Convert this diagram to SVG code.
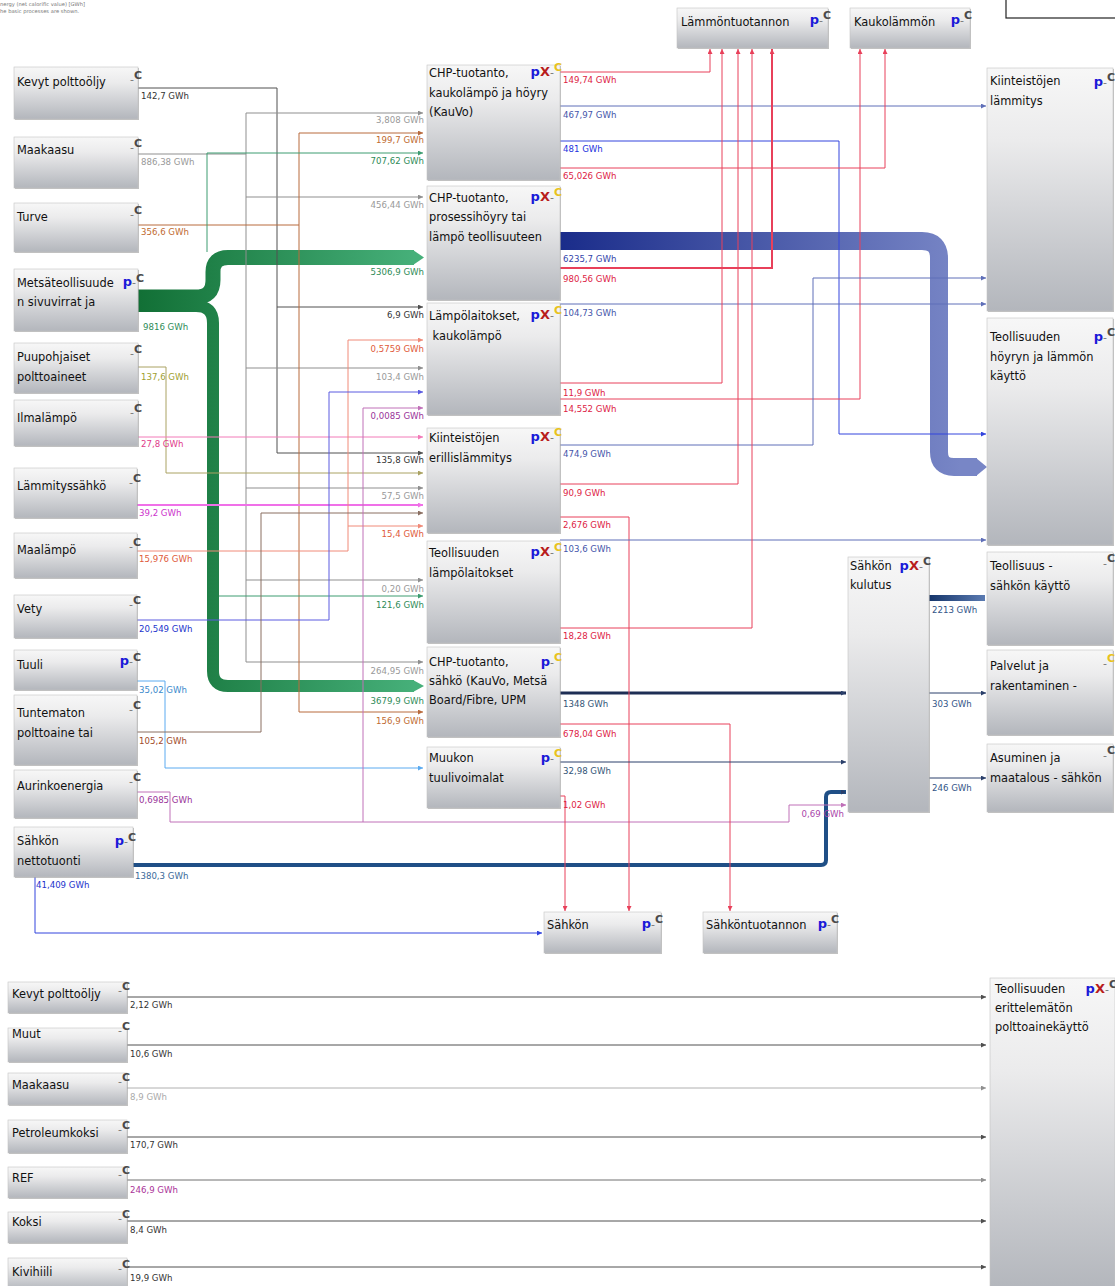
<svg xmlns="http://www.w3.org/2000/svg" width="1115" height="1286" viewBox="0 0 1115 1286">
<defs>
<style>
.b{fill:url(#ng);stroke:#c4c4c4;stroke-width:0.6}
.s{fill:#8e8e8e;opacity:0.55}
.t{font-family:"DejaVu Sans",Verdana,sans-serif;font-size:11.4px;fill:#111}
.l{font-family:"DejaVu Sans",Verdana,sans-serif;font-size:8.6px}
.ico{font-family:"DejaVu Sans",Verdana,sans-serif;font-weight:bold}
.p{fill:#1a1ad8;font-size:13px}
.x{fill:#b81c1c;font-size:13px}
.d{fill:#777;font-size:11px;font-weight:normal}
.c{fill:#4a4a4a;font-size:11px}
.cy{fill:#e8c21c;font-size:11px}
.f{fill:none;stroke-width:1}
.dk{stroke:#505050;marker-end:url(#m-dk)}
.gy{stroke:#8f8f8f;marker-end:url(#m-gy)}
.br{stroke:#b86a3c;marker-end:url(#m-br)}
.ol{stroke:#aaa262;marker-end:url(#m-ol)}
.pk{stroke:#f27ab8;marker-end:url(#m-pk)}
.mg{stroke:#f070e8;marker-end:url(#m-mg);stroke-width:2}
.sa{stroke:#f08a78;marker-end:url(#m-sa)}
.vb{stroke:#5a5ae0;marker-end:url(#m-vb)}
.lb{stroke:#5aaaf0;marker-end:url(#m-lb)}
.tn{stroke:#8a6e60;marker-end:url(#m-tn)}
.pu{stroke:#c070b8;marker-end:url(#m-pu)}
.gn{stroke:#3c9c70;marker-end:url(#m-gn)}
.rd{stroke:#e8405a;marker-end:url(#m-rd)}
.bl{stroke:#5f6fb8;marker-end:url(#m-bl)}
.b2{stroke:#3344dd;marker-end:url(#m-b2)}
.nv{stroke:#2a3f6a;marker-end:url(#m-nv)}
.nm{marker-end:none}
</style>
<linearGradient id="ng" x1="0" y1="0" x2="0" y2="1">
<stop offset="0" stop-color="#f7f7f7"/><stop offset="0.3" stop-color="#ebebec"/><stop offset="1" stop-color="#b3b6bc"/>
</linearGradient>
<linearGradient id="gg" gradientUnits="userSpaceOnUse" x1="140" y1="0" x2="424" y2="0">
<stop offset="0" stop-color="#127036"/><stop offset="1" stop-color="#48b27c"/>
</linearGradient>
<linearGradient id="bg" gradientUnits="userSpaceOnUse" x1="560" y1="0" x2="960" y2="0">
<stop offset="0" stop-color="#1a2c8a"/><stop offset="1" stop-color="#7886c6"/>
</linearGradient>
<linearGradient id="eg" gradientUnits="userSpaceOnUse" x1="929" y1="0" x2="987" y2="0">
<stop offset="0" stop-color="#15356a"/><stop offset="1" stop-color="#5d7db4"/>
</linearGradient>
<marker id="m-dk" viewBox="0 0 6 6" refX="6" refY="3" markerWidth="5" markerHeight="5" markerUnits="userSpaceOnUse" orient="auto"><path d="M0 0L6 3L0 6z" fill="#505050"/></marker>
<marker id="m-gy" viewBox="0 0 6 6" refX="6" refY="3" markerWidth="5" markerHeight="5" markerUnits="userSpaceOnUse" orient="auto"><path d="M0 0L6 3L0 6z" fill="#8f8f8f"/></marker>
<marker id="m-br" viewBox="0 0 6 6" refX="6" refY="3" markerWidth="5" markerHeight="5" markerUnits="userSpaceOnUse" orient="auto"><path d="M0 0L6 3L0 6z" fill="#b86a3c"/></marker>
<marker id="m-ol" viewBox="0 0 6 6" refX="6" refY="3" markerWidth="5" markerHeight="5" markerUnits="userSpaceOnUse" orient="auto"><path d="M0 0L6 3L0 6z" fill="#aaa262"/></marker>
<marker id="m-pk" viewBox="0 0 6 6" refX="6" refY="3" markerWidth="5" markerHeight="5" markerUnits="userSpaceOnUse" orient="auto"><path d="M0 0L6 3L0 6z" fill="#f27ab8"/></marker>
<marker id="m-mg" viewBox="0 0 6 6" refX="6" refY="3" markerWidth="5" markerHeight="5" markerUnits="userSpaceOnUse" orient="auto"><path d="M0 0L6 3L0 6z" fill="#f070e8"/></marker>
<marker id="m-sa" viewBox="0 0 6 6" refX="6" refY="3" markerWidth="5" markerHeight="5" markerUnits="userSpaceOnUse" orient="auto"><path d="M0 0L6 3L0 6z" fill="#f08a78"/></marker>
<marker id="m-vb" viewBox="0 0 6 6" refX="6" refY="3" markerWidth="5" markerHeight="5" markerUnits="userSpaceOnUse" orient="auto"><path d="M0 0L6 3L0 6z" fill="#5a5ae0"/></marker>
<marker id="m-lb" viewBox="0 0 6 6" refX="6" refY="3" markerWidth="5" markerHeight="5" markerUnits="userSpaceOnUse" orient="auto"><path d="M0 0L6 3L0 6z" fill="#5aaaf0"/></marker>
<marker id="m-tn" viewBox="0 0 6 6" refX="6" refY="3" markerWidth="5" markerHeight="5" markerUnits="userSpaceOnUse" orient="auto"><path d="M0 0L6 3L0 6z" fill="#8a6e60"/></marker>
<marker id="m-pu" viewBox="0 0 6 6" refX="6" refY="3" markerWidth="5" markerHeight="5" markerUnits="userSpaceOnUse" orient="auto"><path d="M0 0L6 3L0 6z" fill="#c070b8"/></marker>
<marker id="m-gn" viewBox="0 0 6 6" refX="6" refY="3" markerWidth="5" markerHeight="5" markerUnits="userSpaceOnUse" orient="auto"><path d="M0 0L6 3L0 6z" fill="#3c9c70"/></marker>
<marker id="m-rd" viewBox="0 0 6 6" refX="6" refY="3" markerWidth="5" markerHeight="5" markerUnits="userSpaceOnUse" orient="auto"><path d="M0 0L6 3L0 6z" fill="#e8405a"/></marker>
<marker id="m-bl" viewBox="0 0 6 6" refX="6" refY="3" markerWidth="5" markerHeight="5" markerUnits="userSpaceOnUse" orient="auto"><path d="M0 0L6 3L0 6z" fill="#5f6fb8"/></marker>
<marker id="m-b2" viewBox="0 0 6 6" refX="6" refY="3" markerWidth="5" markerHeight="5" markerUnits="userSpaceOnUse" orient="auto"><path d="M0 0L6 3L0 6z" fill="#3344dd"/></marker>
<marker id="m-nv" viewBox="0 0 6 6" refX="6" refY="3" markerWidth="5" markerHeight="5" markerUnits="userSpaceOnUse" orient="auto"><path d="M0 0L6 3L0 6z" fill="#2a3f6a"/></marker>
</defs>
<rect width="1115" height="1286" fill="#ffffff"/>

<g id="header">
<text x="0" y="6" font-family="DejaVu Sans,sans-serif" font-size="5.2" fill="#777">nergy (net calorific value) [GWh]</text>
<text x="0" y="13" font-family="DejaVu Sans,sans-serif" font-size="5.2" fill="#777">he basic processes are shown.</text>
<rect x="1006" y="-2" width="111" height="20" fill="#fff" stroke="#222" stroke-width="1.2"/>
</g>

<g id="connectors">
<!-- big bands -->
<path class="f" d="M138 297 H196 Q213 297 213 280 V272 Q213 257.5 228 257.5 H414" style="stroke:url(#gg);stroke-width:15"/>
<polygon points="413,250 424,257.5 413,265" fill="#46b07a"/>
<path class="f" d="M138 306 H196 Q213 306 213 323 V671 Q213 686 228 686 H414" style="stroke:url(#gg);stroke-width:12"/>
<polygon points="413,680 424,686 413,692" fill="#46b07a"/>
<path class="f" d="M560 241 H922 Q939 241 939 258 V452 Q939 467 954 467 H977" style="stroke:url(#bg);stroke-width:18"/>
<polygon points="976,458 987,467 976,476" fill="#7886c6"/>
<path class="f" d="M929 598 H985" style="stroke:url(#eg);stroke-width:6"/>
<path class="f nv" d="M133 865 H821 Q826 865 826 860 V797 Q826 792 831 792 H846" style="stroke:#1f4f86;stroke-width:4"/>
<path class="f nv" d="M560 693 H846" style="stroke:#1e2e55;stroke-width:3"/>

<!-- inputs -->
<path class="f dk" d="M138 88 H277 V453 H423"/>
<path class="f dk" d="M277 307 H423"/>
<path class="f gy nm" d="M138 154 H246 M246 113 V662"/>
<path class="f gy" d="M246 113 H423"/>
<path class="f gy" d="M246 197 H423"/>
<path class="f gy" d="M246 368 H423"/>
<path class="f gy" d="M246 488 H423"/>
<path class="f gy" d="M246 580 H423"/>
<path class="f gy" d="M246 662 H423"/>
<path class="f br nm" d="M138 225 H299 M299 133 V712"/>
<path class="f br" d="M299 133 H423"/>
<path class="f br" d="M299 712 H423"/>
<path class="f gn" d="M207 252 V153 H423"/>
<path class="f gn" d="M219 596 H423"/>
<path class="f ol" d="M138 367 H166 V473 H423"/>
<path class="f pk" d="M138 437 H423"/>
<path class="f mg" d="M137 505 H423"/>
<path class="f sa" d="M137 551 H348 V340 H423"/>
<path class="f sa" d="M348 526 H423"/>
<path class="f vb" d="M137 620 H329 V392 H423"/>
<path class="f lb" d="M137 681 H165 V768 H423"/>
<path class="f tn" d="M137 732 H261 V513 H423"/>
<path class="f pu" d="M137 792 H170 V822 H789 V805 H846"/>
<path class="f pu" d="M363 822 V408 H423"/>
<path class="f b2" d="M35 877 V933 H542"/>

<!-- outputs -->
<path class="f rd" d="M560 72 H710 V49"/>
<path class="f bl" d="M560 106 H986"/>
<path class="f b2" d="M560 141 H839 V434 H986"/>
<path class="f rd" d="M560 168 H885 V49"/>
<path class="f rd" d="M560 268 H772 V49" style="stroke-width:2"/>
<path class="f bl" d="M560 304 H986"/>
<path class="f rd" d="M560 383 H722 V49"/>
<path class="f rd" d="M560 399 H860 V49"/>
<path class="f bl" d="M560 445 H813 V278 H986"/>
<path class="f rd" d="M560 484 H738 V49"/>
<path class="f rd" d="M560 517 H629 V911"/>
<path class="f bl" d="M560 540 H986"/>
<path class="f rd" d="M560 628 H752 V49"/>
<path class="f rd" d="M560 724 H730 V911"/>
<path class="f nv" d="M560 762 H846"/>
<path class="f rd" d="M560 796 H565 V911"/>
<path class="f nv" d="M929 693 H986"/>
<path class="f nv" d="M929 778 H986"/>

<!-- bottom -->
<path class="f dk" d="M127 997 H986"/>
<path class="f dk" d="M127 1045 H986"/>
<path class="f gy" d="M127 1088 H986" style="stroke:#b0b0b0"/>
<path class="f dk" d="M127 1137 H986"/>
<path class="f gy" d="M127 1180 H986" style="stroke:#707070"/>
<path class="f dk" d="M127 1221 H986"/>
<path class="f dk" d="M127 1267 H986"/>
</g>

<g id="flow-labels" class="l">
<text x="141" y="99" fill="#333">142,7 GWh</text>
<text x="141" y="165" fill="#999">886,38 GWh</text>
<text x="141" y="235" fill="#c06a30">356,6 GWh</text>
<text x="143" y="330" fill="#2e8b57">9816 GWh</text>
<text x="141" y="380" fill="#a0a030">137,6 GWh</text>
<text x="141" y="447" fill="#e03a8a">27,8 GWh</text>
<text x="139" y="516" fill="#cc33cc">39,2 GWh</text>
<text x="139" y="562" fill="#e05a3a">15,976 GWh</text>
<text x="139" y="632" fill="#2233cc">20,549 GWh</text>
<text x="139" y="693" fill="#3a8acc">35,02 GWh</text>
<text x="139" y="744" fill="#a04a2a">105,2 GWh</text>
<text x="139" y="803" fill="#993399">0,6985 GWh</text>
<text x="135" y="879" fill="#3a6a99">1380,3 GWh</text>
<text x="36" y="888" fill="#2233cc">41,409 GWh</text>
<g text-anchor="end">
<text x="424" y="123" fill="#999">3,808 GWh</text>
<text x="424" y="143" fill="#c06a30">199,7 GWh</text>
<text x="424" y="164" fill="#2e8b57">707,62 GWh</text>
<text x="424" y="208" fill="#999">456,44 GWh</text>
<text x="424" y="275" fill="#2e8b57">5306,9 GWh</text>
<text x="424" y="318" fill="#333">6,9 GWh</text>
<text x="424" y="352" fill="#e05a3a">0,5759 GWh</text>
<text x="424" y="380" fill="#999">103,4 GWh</text>
<text x="424" y="419" fill="#993399">0,0085 GWh</text>
<text x="424" y="463" fill="#333">135,8 GWh</text>
<text x="424" y="499" fill="#999">57,5 GWh</text>
<text x="424" y="537" fill="#e05a3a">15,4 GWh</text>
<text x="424" y="592" fill="#999">0,20 GWh</text>
<text x="424" y="608" fill="#2e8b57">121,6 GWh</text>
<text x="424" y="674" fill="#999">264,95 GWh</text>
<text x="424" y="704" fill="#2e8b57">3679,9 GWh</text>
<text x="424" y="724" fill="#c06a30">156,9 GWh</text>
<text x="844" y="817" fill="#aa44aa">0,69 GWh</text>
</g>
<text x="563" y="83" fill="#dd2244">149,74 GWh</text>
<text x="563" y="118" fill="#4455aa">467,97 GWh</text>
<text x="563" y="152" fill="#2233dd">481 GWh</text>
<text x="563" y="179" fill="#dd2244">65,026 GWh</text>
<text x="563" y="262" fill="#3344aa">6235,7 GWh</text>
<text x="563" y="282" fill="#dd2244">980,56 GWh</text>
<text x="563" y="316" fill="#4455aa">104,73 GWh</text>
<text x="563" y="396" fill="#dd2244">11,9 GWh</text>
<text x="563" y="412" fill="#dd2244">14,552 GWh</text>
<text x="563" y="457" fill="#4455aa">474,9 GWh</text>
<text x="563" y="496" fill="#dd2244">90,9 GWh</text>
<text x="563" y="528" fill="#dd2244">2,676 GWh</text>
<text x="563" y="552" fill="#4455aa">103,6 GWh</text>
<text x="563" y="639" fill="#dd2244">18,28 GWh</text>
<text x="563" y="707" fill="#335577">1348 GWh</text>
<text x="563" y="737" fill="#dd2244">678,04 GWh</text>
<text x="563" y="774" fill="#335577">32,98 GWh</text>
<text x="563" y="808" fill="#dd2244">1,02 GWh</text>
<text x="932" y="613" fill="#335588">2213 GWh</text>
<text x="932" y="707" fill="#335588">303 GWh</text>
<text x="932" y="791" fill="#335588">246 GWh</text>
<text x="130" y="1008" fill="#333">2,12 GWh</text>
<text x="130" y="1057" fill="#333">10,6 GWh</text>
<text x="130" y="1100" fill="#aaa">8,9 GWh</text>
<text x="130" y="1148" fill="#333">170,7 GWh</text>
<text x="130" y="1193" fill="#aa3399">246,9 GWh</text>
<text x="130" y="1233" fill="#333">8,4 GWh</text>
<text x="130" y="1281" fill="#333">19,9 GWh</text>
</g>

<!-- left nodes -->
<g id="n-kevyt"><rect class="s" x="15" y="68" width="124" height="52"/><rect class="b" x="14" y="67" width="124" height="52"/><text class="t" x="17" y="86">Kevyt polttoöljy</text><text class="ico" x="142" y="83" text-anchor="end"><tspan class="d">-</tspan><tspan class="c" dy="-4">C</tspan></text></g>
<g id="n-maakaasu"><rect class="s" x="15" y="138" width="124" height="51"/><rect class="b" x="14" y="137" width="124" height="51"/><text class="t" x="17" y="154">Maakaasu</text><text class="ico" x="142" y="151" text-anchor="end"><tspan class="d">-</tspan><tspan class="c" dy="-4">C</tspan></text></g>
<g id="n-turve"><rect class="s" x="15" y="204" width="124" height="49"/><rect class="b" x="14" y="203" width="124" height="49"/><text class="t" x="17" y="221">Turve</text><text class="ico" x="142" y="218" text-anchor="end"><tspan class="d">-</tspan><tspan class="c" dy="-4">C</tspan></text></g>
<g id="n-metsa"><rect class="s" x="15" y="270" width="124" height="62"/><rect class="b" x="14" y="269" width="124" height="62"/><text class="t" x="17" y="287">Metsäteollisuude</text><text class="t" x="17" y="306">n sivuvirrat ja</text><text class="ico" x="144" y="286" text-anchor="end"><tspan class="p">p</tspan><tspan class="d">-</tspan><tspan class="c" dy="-4">C</tspan></text></g>
<g id="n-puupohjaiset"><rect class="s" x="15" y="344" width="124" height="50"/><rect class="b" x="14" y="343" width="124" height="50"/><text class="t" x="17" y="361">Puupohjaiset</text><text class="t" x="17" y="381">polttoaineet</text><text class="ico" x="142" y="357" text-anchor="end"><tspan class="d">-</tspan><tspan class="c" dy="-4">C</tspan></text></g>
<g id="n-ilmalampo"><rect class="s" x="15" y="401" width="124" height="46"/><rect class="b" x="14" y="400" width="124" height="46"/><text class="t" x="17" y="422">Ilmalämpö</text><text class="ico" x="142" y="416" text-anchor="end"><tspan class="d">-</tspan><tspan class="c" dy="-4">C</tspan></text></g>
<g id="n-lammityssahko"><rect class="s" x="15" y="469" width="123" height="50"/><rect class="b" x="14" y="468" width="123" height="50"/><text class="t" x="17" y="490">Lämmityssähkö</text><text class="ico" x="141" y="486" text-anchor="end"><tspan class="d">-</tspan><tspan class="c" dy="-4">C</tspan></text></g>
<g id="n-maalampo"><rect class="s" x="15" y="534" width="123" height="45"/><rect class="b" x="14" y="533" width="123" height="45"/><text class="t" x="17" y="554">Maalämpö</text><text class="ico" x="141" y="550" text-anchor="end"><tspan class="d">-</tspan><tspan class="c" dy="-4">C</tspan></text></g>
<g id="n-vety"><rect class="s" x="15" y="596" width="123" height="43"/><rect class="b" x="14" y="595" width="123" height="43"/><text class="t" x="17" y="613">Vety</text><text class="ico" x="141" y="608" text-anchor="end"><tspan class="d">-</tspan><tspan class="c" dy="-4">C</tspan></text></g>
<g id="n-tuuli"><rect class="s" x="15" y="651" width="123" height="40"/><rect class="b" x="14" y="650" width="123" height="40"/><text class="t" x="17" y="669">Tuuli</text><text class="ico" x="141" y="665" text-anchor="end"><tspan class="p">p</tspan><tspan class="d">-</tspan><tspan class="c" dy="-4">C</tspan></text></g>
<g id="n-tuntematon"><rect class="s" x="15" y="696" width="123" height="70"/><rect class="b" x="14" y="695" width="123" height="70"/><text class="t" x="17" y="717">Tuntematon</text><text class="t" x="17" y="737">polttoaine tai</text><text class="ico" x="141" y="713" text-anchor="end"><tspan class="d">-</tspan><tspan class="c" dy="-4">C</tspan></text></g>
<g id="n-aurinko"><rect class="s" x="15" y="771" width="123" height="48"/><rect class="b" x="14" y="770" width="123" height="48"/><text class="t" x="17" y="790">Aurinkoenergia</text><text class="ico" x="141" y="785" text-anchor="end"><tspan class="d">-</tspan><tspan class="c" dy="-4">C</tspan></text></g>
<g id="n-nettotuonti"><rect class="s" x="15" y="828" width="119" height="50"/><rect class="b" x="14" y="827" width="119" height="50"/><text class="t" x="17" y="845">Sähkön</text><text class="t" x="17" y="865">nettotuonti</text><text class="ico" x="136" y="845" text-anchor="end"><tspan class="p">p</tspan><tspan class="d">-</tspan><tspan class="c" dy="-4">C</tspan></text></g>

<!-- middle nodes -->
<g id="n-chp-kauvo"><rect class="s" x="428" y="66" width="133" height="115"/><rect class="b" x="427" y="65" width="133" height="115"/><text class="t" x="429" y="77">CHP-tuotanto,</text><text class="t" x="429" y="97">kaukolämpö ja höyry</text><text class="t" x="429" y="116">(KauVo)</text><text class="ico" x="562" y="76" text-anchor="end"><tspan class="p">p</tspan><tspan class="x">X</tspan><tspan class="d">-</tspan><tspan class="cy" dy="-5">C</tspan></text></g>
<g id="n-chp-prosessi"><rect class="s" x="428" y="187" width="133" height="114"/><rect class="b" x="427" y="186" width="133" height="114"/><text class="t" x="429" y="202">CHP-tuotanto,</text><text class="t" x="429" y="221">prosessihöyry tai</text><text class="t" x="429" y="241">lämpö teollisuuteen</text><text class="ico" x="562" y="201" text-anchor="end"><tspan class="p">p</tspan><tspan class="x">X</tspan><tspan class="d">-</tspan><tspan class="cy" dy="-5">C</tspan></text></g>
<g id="n-lampolaitokset"><rect class="s" x="428" y="304" width="133" height="112"/><rect class="b" x="427" y="303" width="133" height="112"/><text class="t" x="429" y="320">Lämpölaitokset,</text><text class="t" x="429" y="340" xml:space="preserve"> kaukolämpö</text><text class="ico" x="562" y="319" text-anchor="end"><tspan class="p">p</tspan><tspan class="x">X</tspan><tspan class="d">-</tspan><tspan class="cy" dy="-5">C</tspan></text></g>
<g id="n-kiint-erillis"><rect class="s" x="428" y="429" width="133" height="105"/><rect class="b" x="427" y="428" width="133" height="105"/><text class="t" x="429" y="442">Kiinteistöjen</text><text class="t" x="429" y="462">erillislämmitys</text><text class="ico" x="562" y="441" text-anchor="end"><tspan class="p">p</tspan><tspan class="x">X</tspan><tspan class="d">-</tspan><tspan class="cy" dy="-5">C</tspan></text></g>
<g id="n-teoll-lampolait"><rect class="s" x="428" y="542" width="133" height="102"/><rect class="b" x="427" y="541" width="133" height="102"/><text class="t" x="429" y="557">Teollisuuden</text><text class="t" x="429" y="577">lämpölaitokset</text><text class="ico" x="562" y="556" text-anchor="end"><tspan class="p">p</tspan><tspan class="x">X</tspan><tspan class="d">-</tspan><tspan class="cy" dy="-5">C</tspan></text></g>
<g id="n-chp-sahko"><rect class="s" x="428" y="648" width="133" height="90"/><rect class="b" x="427" y="647" width="133" height="90"/><text class="t" x="429" y="666">CHP-tuotanto,</text><text class="t" x="429" y="685">sähkö (KauVo, Metsä</text><text class="t" x="429" y="704">Board/Fibre, UPM</text><text class="ico" x="562" y="666" text-anchor="end"><tspan class="p">p</tspan><tspan class="d">-</tspan><tspan class="cy" dy="-5">C</tspan></text></g>
<g id="n-muukon"><rect class="s" x="428" y="748" width="133" height="61"/><rect class="b" x="427" y="747" width="133" height="61"/><text class="t" x="429" y="762">Muukon</text><text class="t" x="429" y="782">tuulivoimalat</text><text class="ico" x="562" y="762" text-anchor="end"><tspan class="p">p</tspan><tspan class="d">-</tspan><tspan class="cy" dy="-5">C</tspan></text></g>

<!-- top nodes -->
<g id="n-lammontuotannon"><rect class="s" x="678" y="9" width="151" height="40"/><rect class="b" x="677" y="8" width="151" height="40"/><text class="t" x="681" y="26">Lämmöntuotannon</text><text class="ico" x="831" y="24" text-anchor="end"><tspan class="p">p</tspan><tspan class="d">-</tspan><tspan class="c" dy="-5">C</tspan></text></g>
<g id="n-kaukolammon"><rect class="s" x="851" y="9" width="120" height="40"/><rect class="b" x="850" y="8" width="120" height="40"/><text class="t" x="854" y="26">Kaukolämmön</text><text class="ico" x="972" y="24" text-anchor="end"><tspan class="p">p</tspan><tspan class="d">-</tspan><tspan class="c" dy="-5">C</tspan></text></g>

<!-- right nodes -->
<g id="n-kiint-lammitys"><rect class="s" x="988" y="69" width="126" height="243"/><rect class="b" x="987" y="68" width="126" height="243"/><text class="t" x="990" y="85">Kiinteistöjen</text><text class="t" x="990" y="105">lämmitys</text><text class="ico" x="1115" y="86" text-anchor="end"><tspan class="p">p</tspan><tspan class="d">-</tspan><tspan class="c" dy="-5">C</tspan></text></g>
<g id="n-teoll-hoyry"><rect class="s" x="988" y="319" width="126" height="227"/><rect class="b" x="987" y="318" width="126" height="227"/><text class="t" x="990" y="341">Teollisuuden</text><text class="t" x="990" y="361">höyryn ja lämmön</text><text class="t" x="990" y="380">käyttö</text><text class="ico" x="1115" y="341" text-anchor="end"><tspan class="p">p</tspan><tspan class="d">-</tspan><tspan class="c" dy="-5">C</tspan></text></g>
<g id="n-teoll-sahko"><rect class="s" x="988" y="553" width="126" height="93"/><rect class="b" x="987" y="552" width="126" height="93"/><text class="t" x="990" y="570">Teollisuus -</text><text class="t" x="990" y="590">sähkön käyttö</text><text class="ico" x="1115" y="567" text-anchor="end"><tspan class="d">-</tspan><tspan class="c" dy="-5">C</tspan></text></g>
<g id="n-palvelut"><rect class="s" x="988" y="651" width="126" height="85"/><rect class="b" x="987" y="650" width="126" height="85"/><text class="t" x="990" y="670">Palvelut ja</text><text class="t" x="990" y="690">rakentaminen -</text><text class="ico" x="1115" y="667" text-anchor="end"><tspan class="d">-</tspan><tspan class="cy" dy="-5">C</tspan></text></g>
<g id="n-asuminen"><rect class="s" x="988" y="745" width="126" height="68"/><rect class="b" x="987" y="744" width="126" height="68"/><text class="t" x="990" y="762">Asuminen ja</text><text class="t" x="990" y="782">maatalous - sähkön</text><text class="ico" x="1115" y="759" text-anchor="end"><tspan class="d">-</tspan><tspan class="c" dy="-5">C</tspan></text></g>
<g id="n-sahkon-kulutus"><rect class="s" x="849" y="558" width="81" height="255"/><rect class="b" x="848" y="557" width="81" height="255"/><text class="t" x="850" y="570">Sähkön</text><text class="t" x="850" y="589">kulutus</text><text class="ico" x="931" y="570" text-anchor="end"><tspan class="p">p</tspan><tspan class="x">X</tspan><tspan class="d">-</tspan><tspan class="c" dy="-5">C</tspan></text></g>
<g id="n-sahkon"><rect class="s" x="545" y="913" width="117" height="41"/><rect class="b" x="544" y="912" width="117" height="41"/><text class="t" x="547" y="929">Sähkön</text><text class="ico" x="663" y="928" text-anchor="end"><tspan class="p">p</tspan><tspan class="d">-</tspan><tspan class="c" dy="-5">C</tspan></text></g>
<g id="n-sahkontuotannon"><rect class="s" x="704" y="913" width="134" height="41"/><rect class="b" x="703" y="912" width="134" height="41"/><text class="t" x="706" y="929">Sähköntuotannon</text><text class="ico" x="839" y="928" text-anchor="end"><tspan class="p">p</tspan><tspan class="d">-</tspan><tspan class="c" dy="-5">C</tspan></text></g>

<!-- bottom section -->
<g id="n-b-kevyt"><rect class="s" x="9" y="983" width="119" height="31"/><rect class="b" x="8" y="982" width="119" height="31"/><text class="t" x="12" y="998">Kevyt polttoöljy</text><text class="ico" x="130" y="994" text-anchor="end"><tspan class="d">-</tspan><tspan class="c" dy="-4">C</tspan></text></g>
<g id="n-b-muut"><rect class="s" x="9" y="1029" width="119" height="34"/><rect class="b" x="8" y="1028" width="119" height="34"/><text class="t" x="12" y="1038">Muut</text><text class="ico" x="130" y="1034" text-anchor="end"><tspan class="d">-</tspan><tspan class="c" dy="-4">C</tspan></text></g>
<g id="n-b-maakaasu"><rect class="s" x="9" y="1074" width="119" height="32"/><rect class="b" x="8" y="1073" width="119" height="32"/><text class="t" x="12" y="1089">Maakaasu</text><text class="ico" x="130" y="1085" text-anchor="end"><tspan class="d">-</tspan><tspan class="c" dy="-4">C</tspan></text></g>
<g id="n-b-petroleumkoksi"><rect class="s" x="9" y="1121" width="119" height="33"/><rect class="b" x="8" y="1120" width="119" height="33"/><text class="t" x="12" y="1137">Petroleumkoksi</text><text class="ico" x="130" y="1133" text-anchor="end"><tspan class="d">-</tspan><tspan class="c" dy="-4">C</tspan></text></g>
<g id="n-b-ref"><rect class="s" x="9" y="1168" width="119" height="31"/><rect class="b" x="8" y="1167" width="119" height="31"/><text class="t" x="12" y="1182">REF</text><text class="ico" x="130" y="1178" text-anchor="end"><tspan class="d">-</tspan><tspan class="c" dy="-4">C</tspan></text></g>
<g id="n-b-koksi"><rect class="s" x="9" y="1213" width="119" height="31"/><rect class="b" x="8" y="1212" width="119" height="31"/><text class="t" x="12" y="1226">Koksi</text><text class="ico" x="130" y="1222" text-anchor="end"><tspan class="d">-</tspan><tspan class="c" dy="-4">C</tspan></text></g>
<g id="n-b-kivihiili"><rect class="s" x="9" y="1259" width="119" height="32"/><rect class="b" x="8" y="1258" width="119" height="32"/><text class="t" x="12" y="1276">Kivihiili</text><text class="ico" x="130" y="1272" text-anchor="end"><tspan class="d">-</tspan><tspan class="c" dy="-4">C</tspan></text></g>
<g id="n-erittelematon"><rect class="s" x="991" y="979" width="125" height="312"/><rect class="b" x="990" y="978" width="125" height="312"/><text class="t" x="995" y="993">Teollisuuden</text><text class="t" x="995" y="1012">erittelemätön</text><text class="t" x="995" y="1031">polttoainekäyttö</text><text class="ico" x="1117" y="993" text-anchor="end"><tspan class="p">p</tspan><tspan class="x">X</tspan><tspan class="d">-</tspan><tspan class="c" dy="-5">C</tspan></text></g>
</svg>
